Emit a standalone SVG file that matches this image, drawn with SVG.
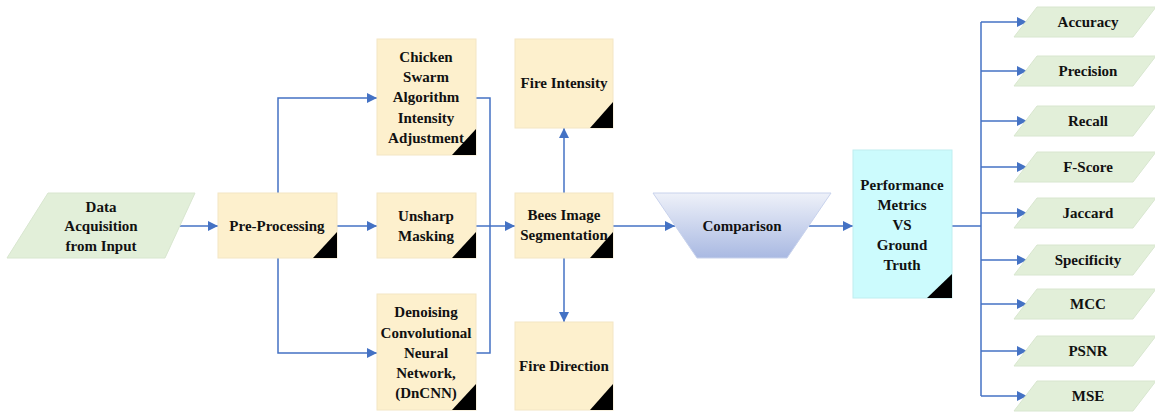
<svg xmlns="http://www.w3.org/2000/svg" width="1155" height="414" viewBox="0 0 1155 414">
<defs>
<style>
.box{fill:#fdf0cd;stroke:#f3e6c4;stroke-width:1}
.perf{fill:#ccfbfd;stroke:#bfeef0;stroke-width:1}
.para{fill:#e2efd9;stroke:#d8e6cf;stroke-width:1}
.tri{fill:#000}
.t{font-family:"Liberation Serif","Times New Roman",serif;font-weight:bold;font-size:15px;fill:#111;text-anchor:middle;dominant-baseline:central}
.ln{fill:none;stroke:#4472c4;stroke-width:1.5}
.ar{fill:none;stroke:#4472c4;stroke-width:1.5;marker-end:url(#ah)}
</style>
<marker id="ah" viewBox="0 0 10 10" refX="10" refY="5" markerWidth="7" markerHeight="7" markerUnits="userSpaceOnUse" orient="auto">
<path d="M0,0 L10,5 L0,10 z" fill="#4472c4"/>
</marker>
<marker id="ah2" viewBox="0 0 10 10" refX="10" refY="5" markerWidth="10" markerHeight="10" markerUnits="userSpaceOnUse" orient="auto">
<path d="M0,0 L10,5 L0,10 z" fill="#4472c4"/>
</marker>
<linearGradient id="cg" x1="0" y1="0" x2="0" y2="1">
<stop offset="0" stop-color="#eef1f9"/>
<stop offset="1" stop-color="#a9b9e2"/>
</linearGradient>
</defs>
<rect width="1155" height="414" fill="#fff"/>

<g id="connectors">
<path class="ln" d="M178,226 H218" marker-end="url(#ah2)"/>
<path class="ln" d="M337,226 H377" marker-end="url(#ah2)"/>
<path class="ln" d="M278,193 V98 H377" marker-end="url(#ah2)"/>
<path class="ln" d="M278,258 V353 H377" marker-end="url(#ah2)"/>
<path class="ln" d="M476,98 H490 V353 H476"/>
<path class="ln" d="M476,226 H515" marker-end="url(#ah2)"/>
<path class="ln" d="M564,193 V128" marker-end="url(#ah2)"/>
<path class="ln" d="M564,258 V322" marker-end="url(#ah2)"/>
<path class="ln" d="M613,226 H675" marker-end="url(#ah2)"/>
<path class="ln" d="M809,226 H853" marker-end="url(#ah2)"/>
<path class="ln" d="M952,226 H981"/>
<path class="ln" d="M981,22 V396"/>
<path class="ln" d="M981,22 H1027" marker-end="url(#ah2)"/>
<path class="ln" d="M981,71 H1027" marker-end="url(#ah2)"/>
<path class="ln" d="M981,121 H1027" marker-end="url(#ah2)"/>
<path class="ln" d="M981,167 H1027" marker-end="url(#ah2)"/>
<path class="ln" d="M981,213 H1027" marker-end="url(#ah2)"/>
<path class="ln" d="M981,260 H1027" marker-end="url(#ah2)"/>
<path class="ln" d="M981,304 H1027" marker-end="url(#ah2)"/>
<path class="ln" d="M981,351 H1027" marker-end="url(#ah2)"/>
<path class="ln" d="M981,396 H1027" marker-end="url(#ah2)"/>
</g>

<g id="data-acquisition">
<polygon class="para" points="48,193 195,193 165,258 7,258"/>
<text class="t" x="101" y="207">Data</text>
<text class="t" x="101" y="226">Acquisition</text>
<text class="t" x="101" y="246">from Input</text>
</g>

<g id="pre-processing">
<rect class="box" x="218" y="193" width="119" height="65"/>
<polygon class="tri" points="337,232 337,258 313,258"/>
<text class="t" x="277" y="226">Pre-Processing</text>
</g>

<g id="chicken-swarm">
<rect class="box" x="377" y="39" width="99" height="116"/>
<polygon class="tri" points="476,129 476,155 452,155"/>
<text class="t" x="426" y="57">Chicken</text>
<text class="t" x="426" y="77">Swarm</text>
<text class="t" x="426" y="97">Algorithm</text>
<text class="t" x="426" y="118">Intensity</text>
<text class="t" x="426" y="138">Adjustment</text>
</g>

<g id="unsharp-masking">
<rect class="box" x="377" y="193" width="99" height="65"/>
<polygon class="tri" points="476,232 476,258 452,258"/>
<text class="t" x="426" y="216">Unsharp</text>
<text class="t" x="426" y="236">Masking</text>
</g>

<g id="dncnn">
<rect class="box" x="377" y="294" width="99" height="116"/>
<polygon class="tri" points="476,384 476,410 452,410"/>
<text class="t" x="426" y="312">Denoising</text>
<text class="t" x="426" y="333">Convolutional</text>
<text class="t" x="426" y="353">Neural</text>
<text class="t" x="426" y="373">Network,</text>
<text class="t" x="426" y="393">(DnCNN)</text>
</g>

<g id="fire-intensity">
<rect class="box" x="515" y="39" width="98" height="89"/>
<polygon class="tri" points="613,102 613,128 590,128"/>
<text class="t" x="564" y="83">Fire Intensity</text>
</g>

<g id="bees-segmentation">
<rect class="box" x="515" y="193" width="98" height="65"/>
<polygon class="tri" points="613,232 613,258 590,258"/>
<text class="t" x="564" y="215">Bees Image</text>
<text class="t" x="564" y="235">Segmentation</text>
</g>

<g id="fire-direction">
<rect class="box" x="515" y="322" width="98" height="88"/>
<polygon class="tri" points="613,384 613,410 590,410"/>
<text class="t" x="564" y="366">Fire Direction</text>
</g>

<g id="comparison">
<polygon points="653,193 831,193 787,258 697,258" fill="url(#cg)" stroke="#c8d2ec" stroke-width="1"/>
<text class="t" x="742" y="226">Comparison</text>
</g>

<g id="performance-metrics">
<rect class="perf" x="853" y="150" width="99" height="148"/>
<polygon class="tri" points="952,274 952,298 927,298"/>
<text class="t" x="902" y="185">Performance</text>
<text class="t" x="902" y="205">Metrics</text>
<text class="t" x="902" y="225">VS</text>
<text class="t" x="902" y="245">Ground</text>
<text class="t" x="902" y="265">Truth</text>
</g>

<g id="accuracy">
<polygon class="para" points="1037,7 1156,7 1133,37 1014,37"/>
<text class="t" x="1088" y="22">Accuracy</text>
</g>
<g id="precision">
<polygon class="para" points="1037,56 1156,56 1133,86 1014,86"/>
<text class="t" x="1088" y="71">Precision</text>
</g>
<g id="recall">
<polygon class="para" points="1037,106 1156,106 1133,136 1014,136"/>
<text class="t" x="1088" y="121">Recall</text>
</g>
<g id="f-score">
<polygon class="para" points="1037,152 1156,152 1133,182 1014,182"/>
<text class="t" x="1088" y="167">F-Score</text>
</g>
<g id="jaccard">
<polygon class="para" points="1037,198 1156,198 1133,228 1014,228"/>
<text class="t" x="1088" y="213">Jaccard</text>
</g>
<g id="specificity">
<polygon class="para" points="1037,245 1156,245 1133,275 1014,275"/>
<text class="t" x="1088" y="260">Specificity</text>
</g>
<g id="mcc">
<polygon class="para" points="1037,289 1156,289 1133,319 1014,319"/>
<text class="t" x="1088" y="304">MCC</text>
</g>
<g id="psnr">
<polygon class="para" points="1037,336 1156,336 1133,366 1014,366"/>
<text class="t" x="1088" y="351">PSNR</text>
</g>
<g id="mse">
<polygon class="para" points="1037,381 1156,381 1133,411 1014,411"/>
<text class="t" x="1088" y="396">MSE</text>
</g>
</svg>
